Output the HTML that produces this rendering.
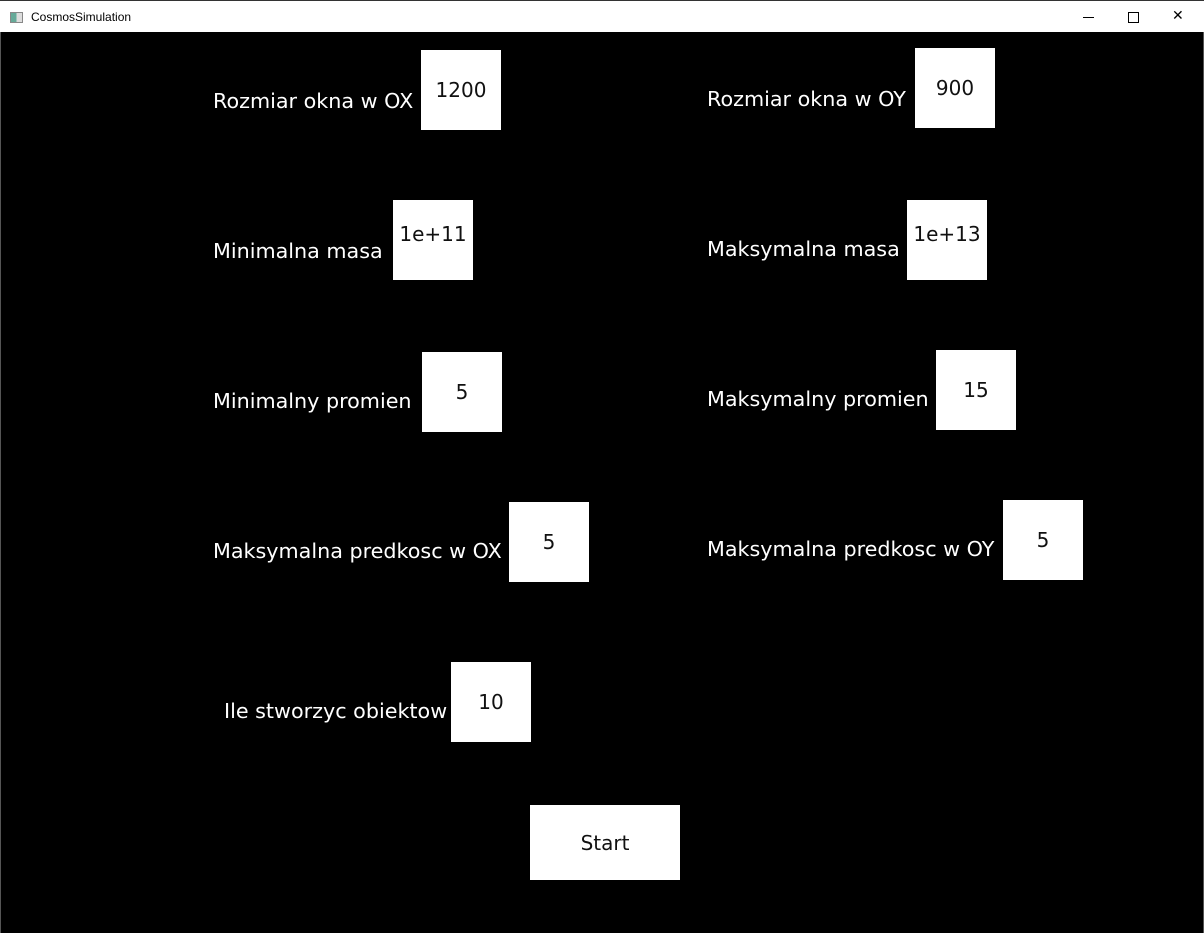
<!DOCTYPE html>
<html><head><style>
body{margin:0;width:1204px;height:933px;background:#000;position:relative;overflow:hidden;font-family:"DejaVu Sans","Liberation Sans",sans-serif;}
.tb{position:absolute;left:0;top:0;width:1204px;height:32px;background:#fff;border-top:1px solid #333;box-sizing:border-box;}
.tt{position:absolute;left:31px;top:9px;font-size:12px;font-family:"Liberation Sans",sans-serif;color:#000;}
.ic{position:absolute;left:10px;top:11px;width:11px;height:9px;border:1px solid #888;background:linear-gradient(90deg,#6a9 0 50%,#ddd 50%);}
.l{position:absolute;color:#fff;font-size:20.7px;line-height:24px;white-space:nowrap;}
.b{position:absolute;width:80px;height:80px;background:#fff;color:#111;font-size:20px;display:flex;align-items:center;justify-content:center;box-sizing:border-box;}
.edge{position:absolute;top:32px;width:1px;height:901px;background:#555;}
</style></head><body>
<div class="tb"><div class="ic"></div><div class="tt">CosmosSimulation</div>
<div style="position:absolute;left:1083px;top:16px;width:11px;height:1px;background:#000"></div>
<div style="position:absolute;left:1128px;top:11px;width:9px;height:9px;border:1px solid #000"></div>
<div style="position:absolute;left:1172px;top:7px;font-size:14px;font-family:'DejaVu Sans';color:#000;font-weight:300">✕</div>
</div>
<div class="edge" style="left:0"></div><div class="edge" style="left:1203px"></div>
<div class="l" style="left:213px;top:89px">Rozmiar okna w OX</div><div class="b" style="left:421px;top:50px;padding-bottom:0">1200</div>
<div class="l" style="left:707px;top:87px">Rozmiar okna w OY</div><div class="b" style="left:915px;top:48px;padding-bottom:0">900</div>
<div class="l" style="left:213px;top:239px">Minimalna masa</div><div class="b" style="left:393px;top:200px;padding-bottom:12px">1e+11</div>
<div class="l" style="left:707px;top:237px">Maksymalna masa</div><div class="b" style="left:907px;top:200px;padding-bottom:12px">1e+13</div>
<div class="l" style="left:213px;top:389px">Minimalny promien</div><div class="b" style="left:422px;top:352px;padding-bottom:0">5</div>
<div class="l" style="left:707px;top:387px">Maksymalny promien</div><div class="b" style="left:936px;top:350px;padding-bottom:0">15</div>
<div class="l" style="left:213px;top:539px">Maksymalna predkosc w OX</div><div class="b" style="left:509px;top:502px;padding-bottom:0">5</div>
<div class="l" style="left:707px;top:537px">Maksymalna predkosc w OY</div><div class="b" style="left:1003px;top:500px;padding-bottom:0">5</div>
<div class="l" style="left:224px;top:699px">Ile stworzyc obiektow</div><div class="b" style="left:451px;top:662px;padding-bottom:0">10</div>
<div class="b" style="left:530px;top:805px;width:150px;height:75px;padding-bottom:0">Start</div>
</body></html>
